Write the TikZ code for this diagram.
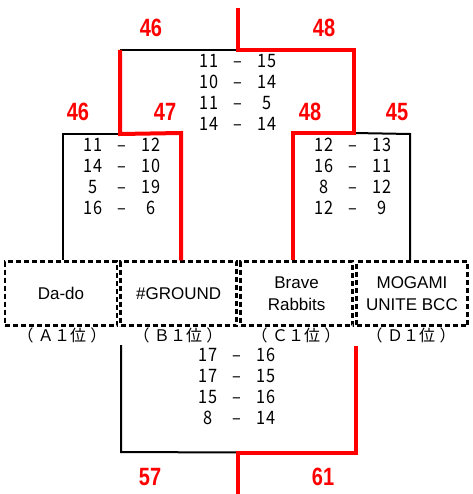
\documentclass[tikz,border=0pt]{standalone}
\usepackage{fontspec}
\usepackage{array}
\setmainfont{Liberation Sans}
\newfontfamily\jpfont{Noto Sans CJK JP}
\newfontfamily\scfont{Noto Sans CJK JP}[FakeStretch=0.88]
\newfontfamily\numfont{Liberation Sans}[FakeStretch=0.8]
\newcommand\scoretab[1]{\begin{tabular}{@{}wc{30pt}@{}wc{28pt}@{}wc{30pt}@{}}#1\end{tabular}}
\newcommand\rk[1]{\makebox[16.5pt][c]{\kern-4pt（\kern4pt}\makebox[16.5pt][c]{#1}\makebox[16pt][c]{１}\makebox[16pt][c]{位}\makebox[16.5pt][c]{\kern4pt）\kern-4pt}}
\tikzset{
  team/.style={draw, dash pattern=on 5pt off 3pt, line width=2.3pt, minimum height=64pt,
    inner sep=0pt, align=center, font=\fontsize{17}{22}\selectfont},
  win/.style={draw=red, line width=4pt},
  lose/.style={draw=black, line width=2pt},
  score/.style={inner sep=0pt, font=\scfont\fontsize{18.5}{21}\selectfont},
  pts/.style={inner sep=0pt, text=red, font=\numfont\bfseries\fontsize{25}{25}\selectfont},
  rank/.style={inner sep=0pt, font=\jpfont\fontsize{16}{16}\selectfont}
}
\begin{document}
\begin{tikzpicture}[x=1pt,y=-1pt]
\useasboundingbox (0,0) rectangle (472,494);
% team boxes
\node[team, minimum width=112pt] (A) at (61,293.5) {Da-do};
\node[team, minimum width=116pt] (B) at (178.6,293.5) {\#GROUND};
\node[team, minimum width=112pt] (C) at (296.6,293.5) {Brave\\Rabbits};
\node[team, minimum width=111pt] (D) at (412,293.5) {MOGAMI\\UNITE BCC};
% rank labels
\node[rank] (rA) at (62,335.5) {\rk{Ａ}};
\node[rank] (rB) at (178,335.5) {\rk{Ｂ}};
\node[rank] (rC) at (296,335.5) {\rk{Ｃ}};
\node[rank] (rD) at (411,335.5) {\rk{Ｄ}};
% bracket points
\coordinate (top) at (238,8);
\coordinate (fL) at (120,50);
\coordinate (fM) at (238,50);
\coordinate (fR) at (354,50);
\coordinate (sLa) at (63,134);
\coordinate (sLm) at (120,134);
\coordinate (sLb) at (181,133);
\coordinate (sRa) at (293,133);
\coordinate (sRm) at (354,133);
\coordinate (sRb) at (410,134);
\coordinate (bLt) at (121,345);
\coordinate (bLb) at (121,452);
\coordinate (bM) at (238,452.5);
\coordinate (bRt) at (356,346);
\coordinate (bRb) at (356,452.5);
\coordinate (bot) at (238,494);
% losing lines
\draw[lose] (63,0 |- A.north) -- (sLa) -- (sLm);
\draw[lose] (410,0 |- D.north) -- (sRb) -- (sRm);
\draw[lose] (fL) -- (fM);
\draw[lose] (bLt) -- (bLb) -- (bM);
% winning lines
\draw[win] (181,0 |- B.north) -- (sLb) -- (sLm -| fL) -- (fL);
\draw[win] (293,0 |- C.north) -- (sRa) -- (sRm) -- (fR) -- (fM) -- (top);
\draw[win] (bRt) -- (bRb) -- (bM) -- (bot);
% scores
\node[score] (sF) at (238,94.5) {\scoretab{11 & – & 15\\ 10 & – & 14\\ 11 & – & 5\\ 14 & – & 14}};
\node[score] (sL) at (122,178.5) {\scoretab{11 & – & 12\\ 14 & – & 10\\ 5 & – & 19\\ 16 & – & 6}};
\node[score] (sR) at (353,178.5) {\scoretab{12 & – & 13\\ 16 & – & 11\\ 8 & – & 12\\ 12 & – & 9}};
\node[score] (sB) at (237,389) {\scoretab{17 & – & 16\\ 17 & – & 15\\ 15 & – & 16\\ 8 & – & 14}};
% points
\node[pts] (p1) at (151,28) {46};
\node[pts] (p2) at (324,28) {48};
\node[pts] (p3) at (78,112) {46};
\node[pts] (p4) at (165,112) {47};
\node[pts] (p5) at (310,112) {48};
\node[pts] (p6) at (397,112) {45};
\node[pts] (p7) at (150,477) {57};
\node[pts] (p8) at (323,477) {61};
\end{tikzpicture}
\end{document}
